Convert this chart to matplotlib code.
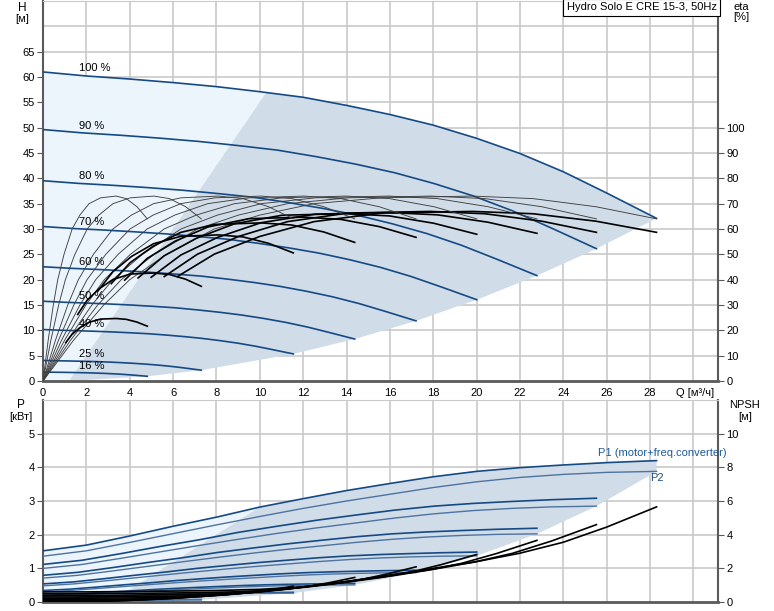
import numpy as np
import matplotlib.pyplot as plt

plt.rcParams['font.family'] = ['Liberation Sans', 'DejaVu Sans']

# 100 % speed curves
q100 = [0, 2, 4, 6, 8, 10, 12, 14, 16, 18, 20, 22, 24, 26, 28.3]
h100 = [61.0, 60.2, 59.6, 58.9, 58.1, 57.1, 56.0, 54.4, 52.6, 50.5, 47.9, 44.9, 41.3, 37.1, 32.1]
p1_100 = [1.52, 1.69, 1.96, 2.25, 2.52, 2.82, 3.07, 3.31, 3.52, 3.72, 3.88, 3.99, 4.07, 4.14, 4.20]
p2_100 = [1.36, 1.52, 1.77, 2.03, 2.29, 2.54, 2.78, 3.00, 3.20, 3.40, 3.57, 3.70, 3.79, 3.85, 3.88]
npsh_100 = [0.6, 0.6, 0.62, 0.65, 0.68, 0.75, 0.9, 1.2, 1.6, 2.0, 2.4, 2.9, 3.55, 4.45, 5.65]

# pump efficiency at 100 %
eta_q = [0, 1.4, 2.8, 4.0, 5.7, 7.9, 10.0, 12.5, 15.6, 19.8, 22.6, 25.5, 28.3]
eta_pump = [0, 16, 30, 40, 50, 60, 65.5, 70, 72.3, 73, 72, 68.8, 64]
# total efficiency (pump+motor+converter): part-load factor on the 100 % flow scale
tot_q = [6.2, 7.9, 10.0, 12.5, 15.6, 19.8, 22.6, 25.5, 28.3]
tot_load = [0.86, 0.91, 0.95, 0.98, 1.0, 1.0, 1.0, 1.0, 1.0]

# speeds and the total/pump efficiency ratio read at each speed
speeds = [1.0, 0.902, 0.805, 0.707, 0.608, 0.508, 0.408, 0.258, 0.17]
speed_labels = ['100 %', '90 %', '80 %', '70 %', '60 %', '50 %', '40 %', '25 %', '16 %']
eta_total_ratio = [0.917, 0.917, 0.911, 0.905, 0.886, 0.855, 0.79, 0.584, 0.338]

# shaded region left edge (Q, H) and (Q, P)
edge_h_q = [1.2, 10.3]
edge_h_h = [0, 56.9]
edge_p_q = [3.1, 10.0]
edge_p_p = [0, 2.82]

blue = '#154a85'
blue2 = '#4d73a0'
light = '#ecf4fc'
dark = '#d0dce8'
grid = '#c9c9c9'
spine = '#5a5a5a'

q100 = np.array(q100)
h100 = np.array(h100)
p1_100 = np.array(p1_100)
p2_100 = np.array(p2_100)
npsh_100 = np.array(npsh_100)
eta_q = np.array(eta_q)
eta_pump = np.array(eta_pump)
tot_q = np.array(tot_q)
tot_eta = np.interp(tot_q, eta_q, eta_pump) * np.array(tot_load)

fig = plt.figure(figsize=(7.74, 6.11), dpi=100)
W, H = 774, 611
ax1 = fig.add_axes([43 / W, 1 - 381 / H, 675 / W, 380 / H])
ax2 = fig.add_axes([43 / W, 1 - 602 / H, 675 / W, 202 / H])
xmax = 675 / 21.68

# ---- top: head + efficiency ----
ax1.set_xlim(0, xmax)
ax1.set_ylim(0, 75)
for x in range(2, 31, 2):
    ax1.axvline(x, color=grid, lw=1.2, zorder=0)
for y in range(5, 76, 5):
    ax1.axhline(y, color=grid, lw=1.2, zorder=0)

# light region left of the edge
qq = np.linspace(0, edge_h_q[1], 30)
ax1.fill(list(qq) + [edge_h_q[0], 0], list(np.interp(qq, q100, h100)) + [0, 0],
         color=light, zorder=1, lw=0)
# dark operating region
top_q = np.concatenate([[edge_h_q[1]], q100[q100 > edge_h_q[1]]])
top_h = np.interp(top_q, q100, h100)
end_q = [q100[-1] * n for n in speeds]
end_h = [h100[-1] * n ** 2 for n in speeds]
ax1.fill([edge_h_q[0]] + list(top_q) + end_q, [edge_h_h[0]] + list(top_h) + end_h,
         color=dark, zorder=1, lw=0)

for n, lab, r in zip(speeds, speed_labels, eta_total_ratio):
    ax1.plot(q100 * n, h100 * n ** 2, color=blue, lw=1.2, zorder=3)
    ax1.plot(eta_q * n, eta_pump / 2, color='#404040', lw=0.65, zorder=4)
    ax1.plot(tot_q * n, tot_eta * r / 2, color='black', lw=1.2, zorder=4)
    hy = np.interp(1.65, q100 * n, h100 * n ** 2)
    ax1.text(1.65, hy + 0.4, lab, fontsize=8, ha='left', va='bottom', zorder=5)

ax1.set_xticks(range(0, 29, 2))
ax1.set_yticks(range(0, 70, 5))
ax1.tick_params(axis='x', length=0, labelsize=8, pad=5)
ax1.tick_params(axis='y', length=4, labelsize=8, color=spine, pad=2)
for s in ['left', 'right', 'bottom']:
    ax1.spines[s].set_color(spine)
    ax1.spines[s].set_linewidth(1.5)
ax1.spines['bottom'].set_linewidth(2)
ax1.spines['top'].set_color(grid)

ax1r = ax1.twinx()
ax1r.set_ylim(0, 150)
ax1r.set_yticks(range(0, 101, 10))
ax1r.tick_params(axis='y', length=4, labelsize=8, color=spine, pad=2)
for s in ['left', 'right', 'bottom', 'top']:
    ax1r.spines[s].set_visible(False)

ax1.text(0.998, 0.997, 'Hydro Solo E CRE 15-3, 50Hz', transform=ax1.transAxes,
         ha='right', va='top', fontsize=8, zorder=6,
         bbox=dict(facecolor='white', edgecolor='black', lw=0.8, pad=2.5))

# ---- bottom: power + NPSH ----
ax2.set_xlim(0, xmax)
ax2.set_ylim(0, 6)
for x in range(2, 31, 2):
    ax2.axvline(x, color=grid, lw=1.2, zorder=0)
for y in range(1, 7):
    ax2.axhline(y, color=grid, lw=1.2, zorder=0)

qq = np.linspace(0, edge_p_q[1], 30)
ax2.fill(list(qq) + [edge_p_q[0], 0], list(np.interp(qq, q100, p1_100)) + [0, 0],
         color=light, zorder=1, lw=0)
top_q = np.concatenate([[edge_p_q[1]], q100[q100 > edge_p_q[1]]])
top_p = np.interp(top_q, q100, p1_100)
end_p = [p2_100[-1] * n ** 3 for n in speeds]
ax2.fill([edge_p_q[0]] + list(top_q) + end_q, [edge_p_p[0]] + list(top_p) + end_p,
         color=dark, zorder=1, lw=0)

ax2r = ax2.twinx()
ax2r.set_ylim(0, 12)
ax2r.set_yticks(range(0, 11, 2))
ax2r.tick_params(axis='y', length=4, labelsize=8, color=spine, pad=2)
for s in ['left', 'right', 'bottom', 'top']:
    ax2r.spines[s].set_visible(False)

for n in speeds:
    ax2.plot(q100 * n, p1_100 * n ** 3, color=blue, lw=1.2, zorder=3)
    ax2.plot(q100 * n, p2_100 * n ** 3, color=blue2, lw=1.0, zorder=3)
    ax2.plot(q100 * n, npsh_100 * n ** 2 / 2, color='black', lw=1.2, zorder=4)

ax2.text(25.6, 4.42, 'P1 (motor+freq.converter)', color='#1f5a9a', fontsize=8,
         ha='left', va='center')
ax2.text(28.0, 3.68, 'P2', color='#1f4e79', fontsize=8, ha='left', va='center')

ax2.set_xticks([])
ax2.set_yticks(range(0, 6))
ax2.tick_params(axis='y', length=4, labelsize=8, color=spine, pad=2)
for s in ['left', 'right', 'bottom']:
    ax2.spines[s].set_color(spine)
    ax2.spines[s].set_linewidth(1.5)
ax2.spines['bottom'].set_linewidth(2)
ax2.spines['top'].set_color(grid)

# axis captions
fig.text(22 / W, 1 - 8 / H, 'H', fontsize=8.5, ha='center', va='center')
fig.text(22 / W, 1 - 19 / H, '[м]', fontsize=8, ha='center', va='center')
fig.text(741 / W, 1 - 7 / H, 'eta', fontsize=8, ha='center', va='center')
fig.text(741 / W, 1 - 17 / H, '[%]', fontsize=8, ha='center', va='center')
fig.text(21 / W, 1 - 405 / H, 'P', fontsize=8.5, ha='center', va='center')
fig.text(21 / W, 1 - 417 / H, '[кВт]', fontsize=8, ha='center', va='center')
fig.text(745 / W, 1 - 405 / H, 'NPSH', fontsize=8, ha='center', va='center')
fig.text(745 / W, 1 - 417 / H, '[м]', fontsize=8, ha='center', va='center')
fig.text(695 / W, 1 - 393 / H, 'Q [м³/ч]', fontsize=8, ha='center', va='center')

fig.savefig('out.png', dpi=100)
